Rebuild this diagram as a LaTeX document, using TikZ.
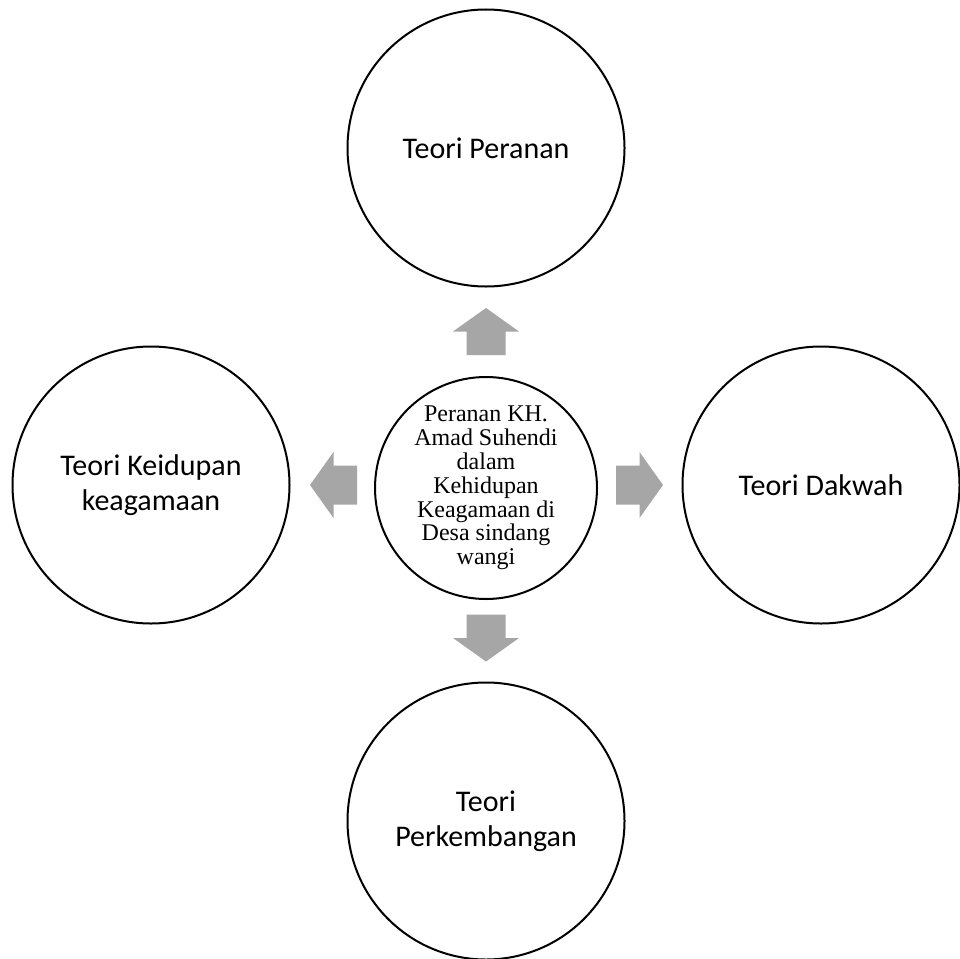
\documentclass[tikz,border=0pt]{standalone}
\usepackage{fontspec}
\setmainfont{Liberation Serif}
\newfontfamily\calibrifont{Carlito}
\definecolor{arrowgray}{HTML}{A6A6A6}
\tikzset{
  outercirc/.style={circle, draw=black, line width=2pt, minimum size=277pt, inner sep=0pt,
    align=center, font=\calibrifont\fontsize{30}{35.5}\selectfont},
  innercirc/.style={circle, draw=black, line width=2pt, minimum size=222pt, inner sep=0pt,
    align=center, font=\fontsize{24}{23.8}\selectfont},
  blockarrow/.pic={\fill[arrowgray] (-23.5,-19.5) -- (0,-19.5) -- (0,-33) -- (23.5,0) -- (0,33) -- (0,19.5) -- (-23.5,19.5) -- cycle;}
}
\begin{document}
\begin{tikzpicture}[x=1pt,y=1pt]
\useasboundingbox (0,0) rectangle (960,-958);
\fill[white] (0,0) rectangle (960,-958);
\node[outercirc] (top) at (486,-148) {Teori Peranan};
\node[outercirc] (left) at (151,-485) {Teori Keidupan\\keagamaan};
\node[outercirc] (right) at (821,-485) {Teori Dakwah};
\node[outercirc] (bottom) at (486,-821) {Teori\\Perkembangan};
\node[innercirc] (center) at (486,-488) {Peranan KH.\\Amad Suhendi\\dalam\\Kehidupan\\Keagamaan di\\Desa sindang\\wangi};
\pic[rotate=90] at (486,-331.5) {blockarrow};
\pic[rotate=180] at (333.5,-485) {blockarrow};
\pic at (639.5,-485) {blockarrow};
\pic[rotate=-90] at (486,-638) {blockarrow};
\end{tikzpicture}
\end{document}
